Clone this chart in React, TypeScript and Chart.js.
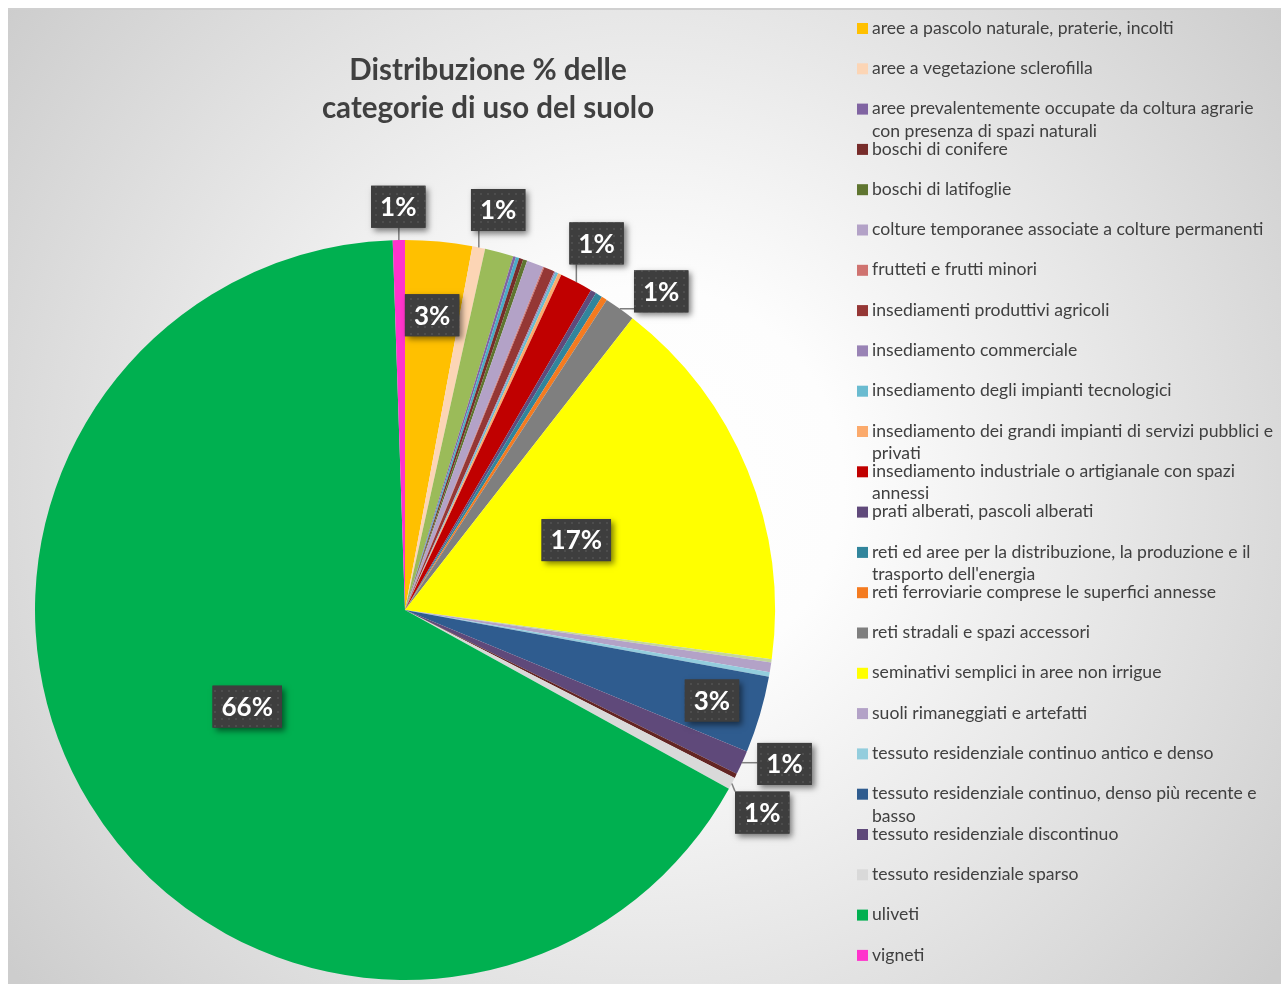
import React, { useEffect, useRef } from "react";
import { Chart, registerables } from "chart.js";

Chart.register(...registerables);

// Categories in the order of the pie (clockwise from 12 o'clock).
// Empty names are slices that have no entry in the legend.
const categories: string[] = [
  "aree a pascolo naturale, praterie, incolti",
  "aree a vegetazione sclerofilla",
  "",
  "aree prevalentemente occupate da coltura agrarie con presenza di spazi naturali",
  "",
  "boschi di conifere",
  "boschi di latifoglie",
  "colture temporanee associate a colture permanenti",
  "frutteti e frutti minori",
  "insediamenti produttivi agricoli",
  "insediamento commerciale",
  "insediamento degli impianti tecnologici",
  "insediamento dei grandi impianti di servizi pubblici e privati",
  "insediamento industriale o artigianale con spazi annessi",
  "prati alberati, pascoli alberati",
  "reti ed aree per la distribuzione, la produzione e il trasporto dell'energia",
  "reti ferroviarie comprese le superfici annesse",
  "reti stradali e spazi accessori",
  "seminativi semplici in aree non irrigue",
  "",
  "suoli rimaneggiati e artefatti",
  "tessuto residenziale continuo antico e denso",
  "tessuto residenziale continuo, denso più recente e basso",
  "tessuto residenziale discontinuo",
  "",
  "tessuto residenziale sparso",
  "uliveti",
  "vigneti",
];

// Share of the area (%)
const shares: number[] = [
  2.92, 0.56, 1.25, 0.12, 0.15, 0.18, 0.18, 0.74, 0.05, 0.47, 0.06, 0.12, 0.15, 1.44,
  0.25, 0.3, 0.25, 1.36, 16.6, 0.14, 0.42, 0.2, 3.36, 1.06, 0.2, 0.53, 66.5, 0.53,
];

const sliceColors: string[] = [
  "#FFC000", "#FCD5B5", "#9BBB59", "#8064A2", "#4BACC6", "#772C2A", "#5F7530",
  "#B3A2C7", "#CF7370", "#953735", "#9983B5", "#6ABBD0", "#FBAA6C", "#C00000",
  "#604A7B", "#31859C", "#F47B20", "#7F7F7F", "#FFFF00", "#C3D69B", "#B3A2C7",
  "#93CDDD", "#2F5C8F", "#5F497A", "#632523", "#D9D9D9", "#00B050", "#FF33CC",
];

const titleLines: string[] = ["Distribuzione % delle", "categorie di uso del suolo"];

// Which slices carry a percentage label, and where
const labelPlacements = [
  { category: "uliveti", radius: 0.5, shiftDeg: 0 },
  { category: "seminativi semplici in aree non irrigue", radius: 0.5, shiftDeg: 0 },
  { category: "tessuto residenziale continuo, denso più recente e basso", radius: 0.865, shiftDeg: 0 },
  { category: "aree a pascolo naturale, praterie, incolti", radius: 0.8, shiftDeg: 0 },
  { category: "vigneti", radius: 1.09, shiftDeg: 0 },
  { category: "aree a vegetazione sclerofilla", radius: 1.11, shiftDeg: 1.6 },
  { category: "insediamento industriale o artigianale con spazi annessi", radius: 1.118, shiftDeg: 0 },
  { category: "reti stradali e spazi accessori", radius: 1.105, shiftDeg: 3.3 },
  { category: "tessuto residenziale discontinuo", radius: 1.107, shiftDeg: -2.3 },
  { category: "tessuto residenziale sparso", radius: 1.11, shiftDeg: 1.6 },
];

const FONT = "Lato, 'Open Sans', sans-serif";

function makePattern(ctx: CanvasRenderingContext2D) {
  const c = document.createElement("canvas");
  c.width = 7;
  c.height = 7;
  const p = c.getContext("2d")!;
  p.fillStyle = "#3e3e3e";
  p.fillRect(0, 0, 7, 7);
  p.fillStyle = "#4d4d4d";
  p.fillRect(3, 3, 2, 2);
  return ctx.createPattern(c, "repeat")!;
}

const backgroundPlugin = {
  id: "bg",
  beforeDraw(chart: any) {
    const { ctx, width, height } = chart;
    ctx.save();
    const cx = width * 0.5;
    const cy = height * 0.49;
    const g = ctx.createRadialGradient(cx, cy, 0, cx, cy, Math.hypot(cx, cy));
    g.addColorStop(0, "#ffffff");
    g.addColorStop(0.25, "#fdfdfd");
    g.addColorStop(1, "#cdcdcd");
    ctx.fillStyle = g;
    ctx.fillRect(0, 0, width, height);
    ctx.strokeStyle = "#d0d0d0";
    ctx.lineWidth = 2;
    ctx.beginPath();
    ctx.moveTo(0, 1);
    ctx.lineTo(width, 1);
    ctx.stroke();
    ctx.restore();
  },
};

const boxLabelPlugin = {
  id: "boxLabels",
  afterDatasetsDraw(chart: any) {
    const ctx: CanvasRenderingContext2D = chart.ctx;
    const meta = chart.getDatasetMeta(0);
    const data = chart.data.datasets[0].data as number[];
    const total = data.reduce((a, b) => a + b, 0);
    const pattern = makePattern(ctx);
    ctx.save();
    ctx.font = `bold 26px ${FONT}`;
    for (const p of labelPlacements) {
      const i = chart.data.labels.indexOf(p.category);
      if (i < 0) continue;
      const arc = meta.data[i];
      const { x, y, startAngle, endAngle, outerRadius } = arc.getProps(
        ["x", "y", "startAngle", "endAngle", "outerRadius"],
        true
      );
      const amid = (startAngle + endAngle) / 2;
      const mid = amid + (p.shiftDeg * Math.PI) / 180;
      const cx = x + Math.cos(mid) * outerRadius * p.radius;
      const cy = y + Math.sin(mid) * outerRadius * p.radius;
      const text = Math.round((data[i] / total) * 100) + "%";
      const tw = ctx.measureText(text).width;
      const w = tw + 18;
      const h = 42;
      const bx = cx - w / 2;
      const by = cy - h / 2;
      if (p.radius > 1) {
        const ax = x + Math.cos(amid) * outerRadius;
        const ay = y + Math.sin(amid) * outerRadius;
        const nx = Math.min(Math.max(ax, bx), bx + w);
        const ny = Math.min(Math.max(ay, by), by + h);
        ctx.strokeStyle = "#7f7f7f";
        ctx.lineWidth = 1.5;
        ctx.beginPath();
        ctx.moveTo(ax, ay);
        ctx.lineTo(nx, ny);
        ctx.stroke();
      }
      ctx.save();
      ctx.shadowColor = "rgba(0,0,0,0.5)";
      ctx.shadowBlur = 6;
      ctx.shadowOffsetX = 3;
      ctx.shadowOffsetY = 3;
      ctx.fillStyle = "#3e3e3e";
      ctx.fillRect(bx, by, w, h);
      ctx.restore();
      ctx.fillStyle = pattern;
      ctx.fillRect(bx, by, w, h);
      ctx.fillStyle = "#ffffff";
      ctx.textAlign = "center";
      ctx.textBaseline = "middle";
      ctx.fillText(text, cx, cy + 1);
    }
    ctx.restore();
  },
};

function wrap(ctx: CanvasRenderingContext2D, text: string, maxW: number): string[] {
  const words = text.split(" ");
  const lines: string[] = [];
  let cur = "";
  for (const wd of words) {
    const t = cur ? cur + " " + wd : wd;
    if (ctx.measureText(t).width > maxW && cur) {
      lines.push(cur);
      cur = wd;
    } else cur = t;
  }
  if (cur) lines.push(cur);
  return lines;
}

const titleLegendPlugin = {
  id: "titleLegend",
  afterDraw(chart: any) {
    const ctx: CanvasRenderingContext2D = chart.ctx;
    ctx.save();
    // title
    ctx.fillStyle = "#404040";
    ctx.font = `bold 29.5px ${FONT}`;
    ctx.textAlign = "center";
    ctx.textBaseline = "middle";
    titleLines.forEach((t, k) => ctx.fillText(t, 480, 62 + k * 38));
    // legend
    const labels: string[] = chart.data.labels;
    const colors: string[] = chart.data.datasets[0].backgroundColor;
    ctx.font = `17.6px ${FONT}`;
    ctx.textAlign = "left";
    let row = 0;
    labels.forEach((lab, i) => {
      if (!lab) return;
      const yc = 20 + row * 40.3;
      ctx.fillStyle = colors[i];
      ctx.fillRect(849, yc - 5, 11, 11);
      ctx.fillStyle = "#404040";
      const lines = wrap(ctx, lab, 406);
      lines.forEach((ln, k) => ctx.fillText(ln, 864, yc + k * 22.5));
      row++;
    });
    ctx.restore();
  },
};

export default function App() {
  const ref = useRef<HTMLCanvasElement>(null);
  useEffect(() => {
    if (!ref.current) return;
    const chart = new Chart(ref.current, {
      type: "pie",
      data: {
        labels: categories,
        datasets: [
          {
            data: shares,
            backgroundColor: sliceColors,
            borderWidth: 0,
            hoverBorderWidth: 0,
            hoverOffset: 0,
          },
        ],
      },
      options: {
        responsive: false,
        animation: false,
        layout: { padding: { left: 27, top: 232, right: 506, bottom: 4 } },
        plugins: {
          legend: { display: false },
          tooltip: { enabled: false },
          title: { display: false },
        },
      },
      plugins: [backgroundPlugin, boxLabelPlugin, titleLegendPlugin],
    });
    return () => chart.destroy();
  }, []);
  return (
    <div style={{ position: "absolute", left: 8, top: 8, width: 1273, height: 976 }}>
      <canvas ref={ref} width={1273} height={976} style={{ display: "block" }} />
    </div>
  );
}
